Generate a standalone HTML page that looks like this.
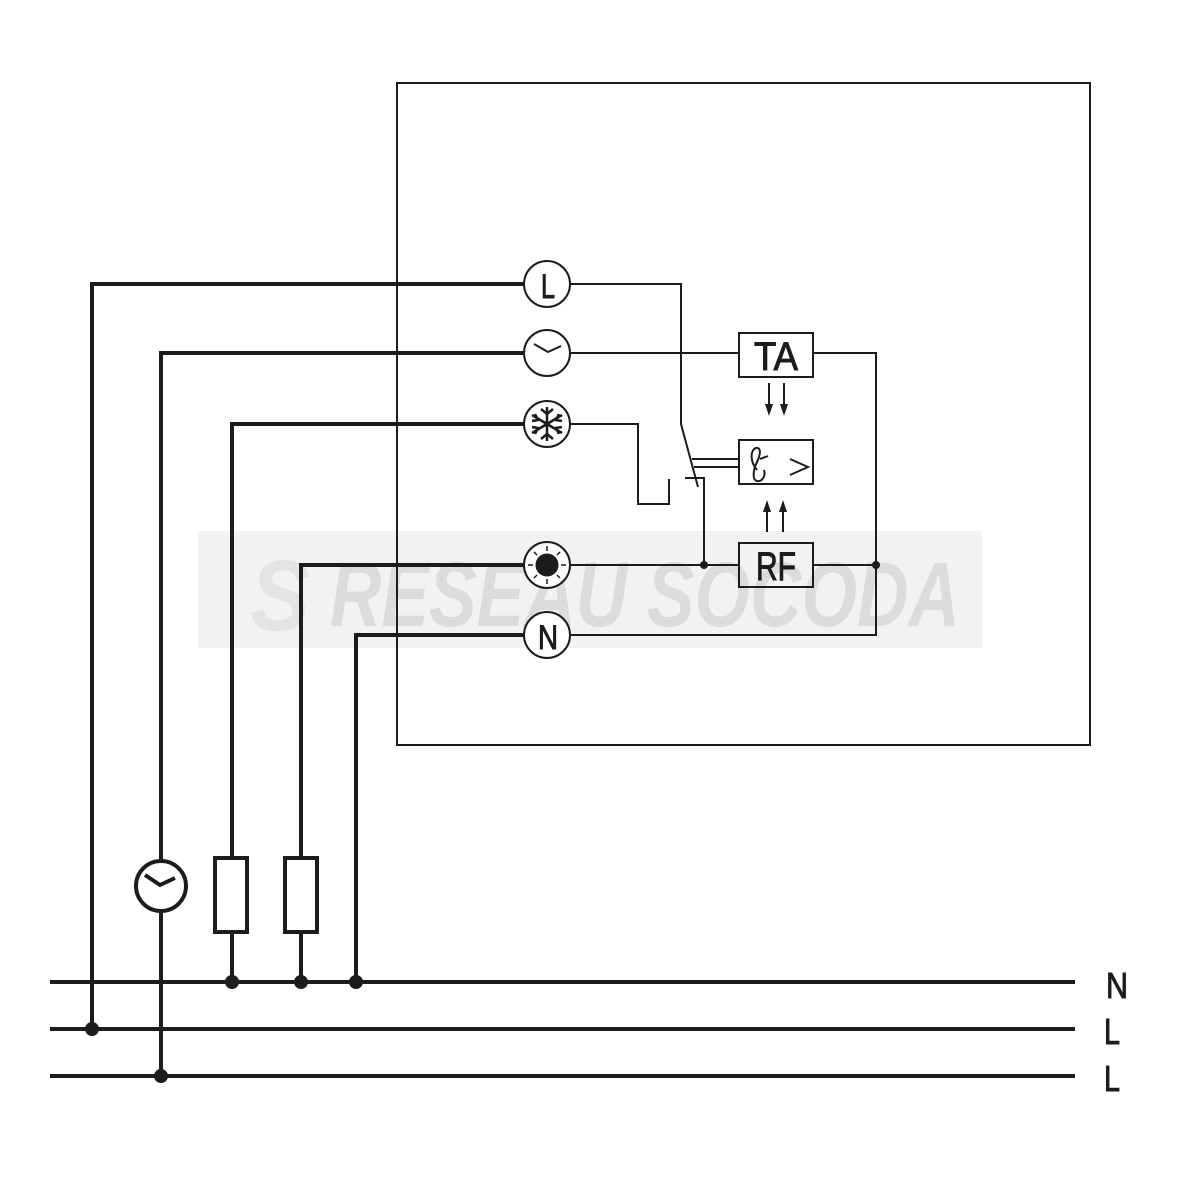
<!DOCTYPE html>
<html><head><meta charset="utf-8"><style>html,body{margin:0;padding:0;background:#fff}</style></head>
<body>
<svg width="1180" height="1180" viewBox="0 0 1180 1180" xmlns="http://www.w3.org/2000/svg">
<rect width="1180" height="1180" fill="#fff"/>
<!-- watermark -->
<rect x="198" y="531" width="784" height="117" fill="#f2f2f2"/>
<text x="330" y="626" font-family="Liberation Sans, sans-serif" font-size="92" font-weight="bold" font-style="italic" fill="#dcdcdc" textLength="630" lengthAdjust="spacingAndGlyphs">RESEAU SOCODA</text>
<text x="250" y="630" font-family="Liberation Sans, sans-serif" font-size="100" font-weight="bold" font-style="italic" fill="#e4e4e4" textLength="60" lengthAdjust="spacingAndGlyphs">S</text>

<g fill="none" stroke="#1a1c1e">
<rect x="397" y="83" width="693" height="662" stroke-width="2"/>
<g stroke-width="4">
<polyline points="524,284 92,284 92,1029"/>
<polyline points="524,353 161,353 161,861"/>
<line x1="161" y1="911" x2="161" y2="1076"/>
<polyline points="524,424 232,424 232,858"/>
<line x1="232" y1="932" x2="232" y2="982"/>
<polyline points="524,565 301,565 301,858"/>
<line x1="301" y1="932" x2="301" y2="982"/>
<polyline points="524,635 356,635 356,982"/>
<line x1="50" y1="982" x2="1075" y2="982"/>
<line x1="50" y1="1029" x2="1075" y2="1029"/>
<line x1="50" y1="1076" x2="1075" y2="1076"/>
<rect x="215" y="858" width="32" height="74"/>
<rect x="285" y="858" width="32" height="74"/>
<circle cx="161" cy="886" r="25"/>
<polyline points="145,875 160,885 175,878"/>
</g>
<g stroke-width="2">
<polyline points="570,284 681,284 681,424 698,487"/>
<polyline points="570,353 739,353"/>
<polyline points="813,353 876,353 876,635 570,635"/>
<polyline points="570,424 638,424 638,504 669,504 669,479"/>
<polyline points="685,478 704,478 704,565"/>
<line x1="570" y1="565" x2="739" y2="565"/>
<line x1="813" y1="565" x2="876" y2="565"/>
<line x1="692" y1="459" x2="739" y2="459"/>
<line x1="694" y1="467" x2="739" y2="467"/>
<rect x="739" y="333" width="74" height="44"/>
<rect x="739" y="440" width="74" height="44"/>
<rect x="739" y="543" width="74" height="44"/>
<line x1="769" y1="383" x2="769" y2="406"/>
<line x1="784" y1="383" x2="784" y2="406"/>
<line x1="767" y1="532" x2="767" y2="510"/>
<line x1="783" y1="532" x2="783" y2="510"/>
<polyline points="790,459 808,467 790,475"/>
<path d="M757,470 C750,462 750,450 756,448 C762,447 760,456 757,462 C753,470 752,480 757,481 C762,482 766,476 764,470"/>
<line x1="760" y1="459" x2="768" y2="456"/>
<circle cx="547" cy="284" r="23" fill="#fff"/>
<circle cx="547" cy="353" r="23" fill="#fff"/>
<circle cx="547" cy="424" r="23" fill="#fff"/>
<circle cx="547" cy="565" r="23" fill="#fff"/>
<circle cx="547" cy="635" r="23" fill="#fff"/>
<polyline points="534,344 548,352 561,346"/>
<g stroke-width="2.5">
<line x1="547" y1="407" x2="547" y2="441"/>
<line x1="532" y1="415" x2="562" y2="433"/>
<line x1="532" y1="433" x2="562" y2="415"/>
<polyline points="541,409 547,414 553,409"/><polyline points="541,439 547,434 553,439"/>
<polyline points="532,421 538,420 535,414"/><polyline points="562,427 556,428 559,434"/>
<polyline points="532,427 538,428 535,434"/><polyline points="562,421 556,420 559,414"/>
</g>
<g stroke-width="1.5">
<line x1="547" y1="546" x2="547" y2="551"/><line x1="547" y1="579" x2="547" y2="584"/>
<line x1="528" y1="565" x2="533" y2="565"/><line x1="561" y1="565" x2="566" y2="565"/>
<line x1="534" y1="552" x2="537" y2="555"/><line x1="557" y1="575" x2="560" y2="578"/>
<line x1="560" y1="552" x2="557" y2="555"/><line x1="537" y1="575" x2="534" y2="578"/>
</g>
</g>
<circle cx="547" cy="565" r="11" fill="#1a1c1e"/>
<g fill="#1a1c1e" stroke="none">
<polygon points="765,404 773,404 769,416"/><polygon points="780,404 788,404 784,416"/>
<polygon points="763,512 771,512 767,500"/><polygon points="779,512 787,512 783,500"/>
<circle cx="92" cy="1029" r="7"/><circle cx="161" cy="1076" r="7"/>
<circle cx="232" cy="982" r="7"/><circle cx="301" cy="982" r="7"/><circle cx="356" cy="982" r="7"/>
<circle cx="704" cy="565" r="4"/><circle cx="876" cy="565" r="4"/>
</g>
<g font-family="Liberation Sans, sans-serif" fill="#1a1c1e" text-anchor="middle" font-weight="normal">
<text x="548" y="298" font-size="34" textLength="14" lengthAdjust="spacingAndGlyphs">L</text>
<text x="548" y="649" font-size="34" textLength="20" lengthAdjust="spacingAndGlyphs">N</text>
<text x="776" y="370" font-size="40" textLength="44" lengthAdjust="spacingAndGlyphs">TA</text>
<text x="776" y="580" font-size="40" textLength="40" lengthAdjust="spacingAndGlyphs">RF</text>
<text x="1117" y="998" font-size="36" textLength="22" lengthAdjust="spacingAndGlyphs">N</text>
<text x="1112" y="1044" font-size="36" textLength="16" lengthAdjust="spacingAndGlyphs">L</text>
<text x="1112" y="1091" font-size="36" textLength="16" lengthAdjust="spacingAndGlyphs">L</text>
</g>
</svg>
</body></html>
